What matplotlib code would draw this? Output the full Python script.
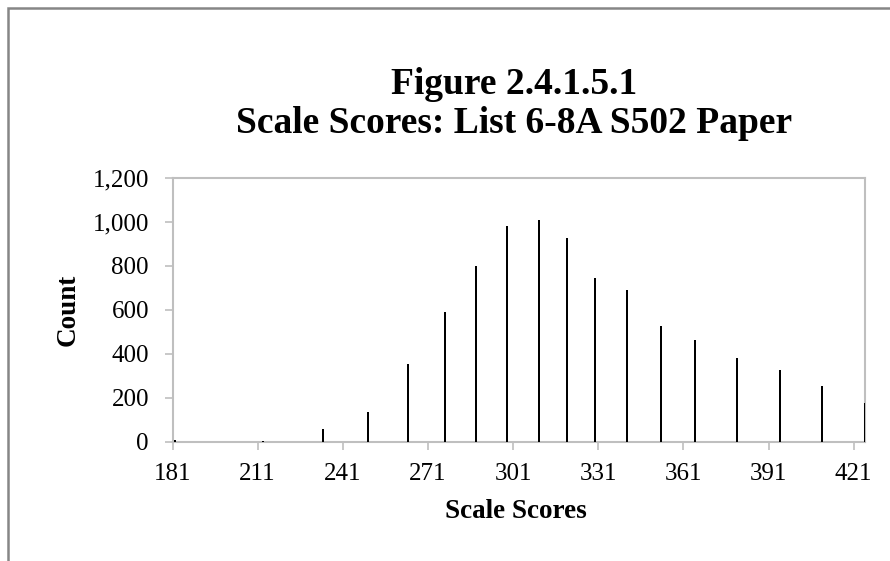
import matplotlib
matplotlib.use("Agg")
import matplotlib.pyplot as plt
from matplotlib.patches import Rectangle
from matplotlib.ticker import FuncFormatter

# Data
scores = [182, 213, 234, 250, 264, 277, 288, 299, 310, 320, 330, 341, 353, 365, 380, 395, 410, 425]
counts = [8, 5, 56, 136, 355, 589, 798, 979, 1006, 924, 743, 689, 526, 462, 380, 326, 255, 175]
x_ticks = [181, 211, 241, 271, 301, 331, 361, 391, 421]
y_ticks = [0, 200, 400, 600, 800, 1000, 1200]

title = "Figure 2.4.1.5.1\nScale Scores: List 6-8A S502 Paper"
xlabel = "Scale Scores"
ylabel = "Count"

W, H = 890, 561
plt.rcParams['font.family'] = ['Liberation Serif', 'DejaVu Serif']
fig = plt.figure(figsize=(W / 100, H / 100), dpi=100)

# outer chart border (cropped at right/bottom)
fig.patches.append(Rectangle((7.5 / W, -0.1), 1.2, 1 - 7.5 / H + 0.1, transform=fig.transFigure,
                             fill=False, edgecolor='#868686', linewidth=1.8, zorder=0))

left, right, top, bottom = 172.5, 865, 177.5, 441.7
ax = fig.add_axes([left / W, 1 - bottom / H, (right - left) / W, (bottom - top) / H])

ax.bar(scores, counts, width=0.75, color='black', linewidth=0, zorder=3)
ax.set_xlim(181, 425)
ax.set_ylim(0, 1200)
ax.set_xticks(x_ticks)
ax.set_yticks(y_ticks)
ax.yaxis.set_major_formatter(FuncFormatter(lambda v, p: f"{int(v):,}"))

for s in ax.spines.values():
    s.set_color('#BFBFBF')
    s.set_linewidth(1.5)
ax.tick_params(axis='both', colors='#BFBFBF', labelcolor='black', labelsize=18,
               length=6, width=1.2, direction='out')
ax.tick_params(axis='x', pad=9)
ax.tick_params(axis='y', pad=11)

fig.text(514 / W, 1 - 104 / H, title, ha='center', va='center', fontsize=27,
         fontweight='bold', linespacing=1.15)
fig.text(516 / W, 1 - 511 / H, xlabel, ha='center', va='center', fontsize=19.5, fontweight='bold')
fig.text(68 / W, 1 - 310 / H, ylabel, ha='center', va='center', fontsize=19.5, fontweight='bold',
         rotation=90)

fig.savefig("out.png", dpi=100)
